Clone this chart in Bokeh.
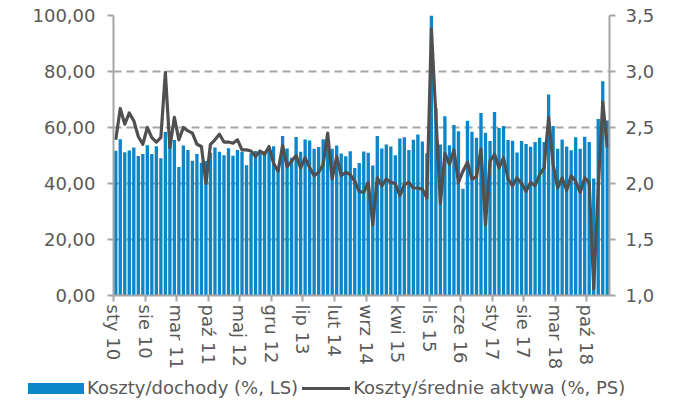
from bokeh.plotting import figure
from bokeh.layouts import column
from bokeh.models import (Range1d, LinearAxis, FixedTicker, CustomJSTickFormatter,
                          ColumnDataSource, Div, AllLabels)
from bokeh.embed import file_html
from bokeh.resources import INLINE

# Koszty/dochody (%, LS) - monthly, sty 2010 .. lut 2019
cost_income = [
    51.7, 55.8, 51.2, 51.8, 52.9, 49.8, 50.5, 53.7, 50.5, 53.3,
    49.0, 58.4, 54.5, 55.5, 45.9, 53.6, 52.0, 48.1, 50.5, 47.4,
    48.0, 51.0, 52.9, 51.3, 50.1, 52.6, 49.9, 52.0, 51.3, 46.5,
    50.8, 51.6, 51.2, 51.5, 52.7, 53.3, 45.3, 57.0, 52.5, 49.2,
    56.6, 51.3, 55.7, 55.4, 52.4, 53.0, 55.8, 56.0, 52.4, 53.6,
    50.7, 49.7, 51.5, 45.5, 47.3, 51.4, 51.0, 46.4, 57.0, 52.5,
    53.9, 53.2, 50.1, 56.1, 56.5, 52.0, 55.6, 57.5, 55.0, 50.8,
    100.0, 67.0, 53.9, 64.0, 53.7, 60.9, 58.7, 38.1, 62.4, 58.5,
    56.3, 65.2, 58.1, 55.2, 65.5, 59.8, 60.5, 55.5, 55.3, 51.1,
    55.2, 54.1, 53.1, 54.8, 56.3, 54.8, 71.8, 60.5, 52.4, 55.7,
    53.2, 51.9, 56.5, 52.4, 56.7, 54.8, 41.8, 63.0, 76.5, 62.5,
]

# Koszty/średnie aktywa (%, PS)
cost_assets = [
    2.39, 2.67, 2.53, 2.63, 2.56, 2.42, 2.35, 2.50, 2.41, 2.37,
    2.41, 2.99, 2.32, 2.59, 2.39, 2.50, 2.47, 2.45, 2.35, 2.33,
    2.00, 2.35, 2.39, 2.44, 2.37, 2.37, 2.36, 2.39, 2.30, 2.30,
    2.29, 2.24, 2.29, 2.26, 2.33, 2.18, 2.11, 2.34, 2.15, 2.20,
    2.25, 2.14, 2.23, 2.14, 2.07, 2.10, 2.17, 2.45, 2.04, 2.24,
    2.07, 2.10, 2.08, 2.02, 1.93, 1.92, 2.01, 1.63, 2.05, 1.98,
    2.04, 2.01, 2.00, 1.89, 1.99, 2.01, 1.96, 1.96, 1.95, 1.87,
    3.38, 2.60, 1.82, 2.27, 2.17, 2.30, 2.01, 2.11, 2.19, 2.04,
    2.06, 2.31, 1.63, 2.20, 2.26, 2.14, 2.23, 2.04, 1.98, 2.05,
    2.00, 1.93, 2.01, 1.98, 2.08, 2.14, 2.59, 2.17, 1.96, 2.05,
    1.94, 2.07, 2.02, 1.92, 2.05, 2.01, 1.06, 1.95, 2.73, 2.32,
]

tick_labels = ["sty 10", "sie 10", "mar 11", "paź 11", "maj 12", "gru 12",
               "lip 13", "lut 14", "wrz 14", "kwi 15", "lis 15", "cze 16",
               "sty 17", "sie 17", "mar 18", "paź 18"]

left_ticks = [0, 20, 40, 60, 80, 100]
right_ticks = [1.0, 1.5, 2.0, 2.5, 3.0, 3.5]

label_name_bars = "Koszty/dochody (%, LS)"
label_name_line = "Koszty/średnie aktywa (%, PS)"

n = len(cost_income)
xs = [i + 0.5 for i in range(n)]
src = ColumnDataSource(dict(x=xs, ci=cost_income, ca=cost_assets))

FONT = "DejaVu Sans"
TXT = "#595959"
GRID = "#a6a6a6"
BAR = "#0b87c9"
LINE = "#505050"

p = figure(frame_width=496, frame_height=280, output_backend="svg", toolbar_location=None,
           x_range=Range1d(0, n), y_range=Range1d(0, 100),
           min_border_left=113, min_border_right=77, min_border_top=15,
           min_border_bottom=0, x_axis_location=None, y_axis_location=None)
p.outline_line_color = None
p.background_fill_color = "white"
p.extra_y_ranges = {"r": Range1d(1.0, 3.5)}

bars = p.vbar(x="x", top="ci", width=0.74, bottom=0, source=src,
              fill_color=BAR, line_color=None)
line = p.line(x="x", y="ca", source=src, y_range_name="r",
              line_color=LINE, line_width=3.2, line_join="round")

# axes
xa = LinearAxis(ticker=FixedTicker(ticks=[7 * k for k in range(len(tick_labels))]),
                formatter=CustomJSTickFormatter(args=dict(labels=tick_labels),
                                                code="return labels[Math.round(tick/7)] || '';"),
                major_label_orientation="vertical", major_label_policy=AllLabels())
ya = LinearAxis(ticker=FixedTicker(ticks=left_ticks),
                formatter=CustomJSTickFormatter(code="return tick.toFixed(2).replace('.', ',');"))
ra = LinearAxis(y_range_name="r", ticker=FixedTicker(ticks=right_ticks),
                formatter=CustomJSTickFormatter(code="return tick.toFixed(1).replace('.', ',');"))

for ax in (xa, ya, ra):
    ax.axis_line_color = GRID
    ax.axis_line_width = 2
    ax.major_tick_line_color = GRID
    ax.major_tick_line_width = 2
    ax.major_tick_out = 6
    ax.major_tick_in = 0
    ax.minor_tick_line_color = None
    ax.major_label_text_font = FONT
    ax.major_label_text_font_size = "18px"
    ax.major_label_text_color = TXT
xa.major_label_standoff = 3
ya.major_label_standoff = 12
ra.major_label_standoff = 10

p.add_layout(xa, "below")
p.add_layout(ya, "left")
p.add_layout(ra, "right")

p.xgrid.grid_line_color = None
p.ygrid.ticker = FixedTicker(ticks=[20, 40, 60, 80, 100])
p.ygrid.grid_line_color = GRID
p.ygrid.grid_line_width = 2
p.ygrid.grid_line_dash = "8 5"

legend_html = (
    f'<div style="font-family:\'{FONT}\';font-size:18px;color:{TXT};white-space:nowrap;'
    f'line-height:22px;padding-left:28px;">'
    f'<span style="display:inline-block;width:56px;height:11px;background:{BAR};'
    f'vertical-align:middle;"></span>'
    f'<span style="margin-left:3px;vertical-align:middle;">{label_name_bars}</span>'
    f'<span style="display:inline-block;width:48px;height:3px;background:{LINE};'
    f'vertical-align:middle;margin-left:4px;"></span>'
    f'<span style="margin-left:3px;vertical-align:middle;">{label_name_line}</span>'
    f'</div>'
)
leg = Div(text=legend_html, width=686, height=26, margin=(4, 0, 0, 0))

layout = column(p, leg, spacing=0)
open("out.html", "w").write(file_html(layout, INLINE))
